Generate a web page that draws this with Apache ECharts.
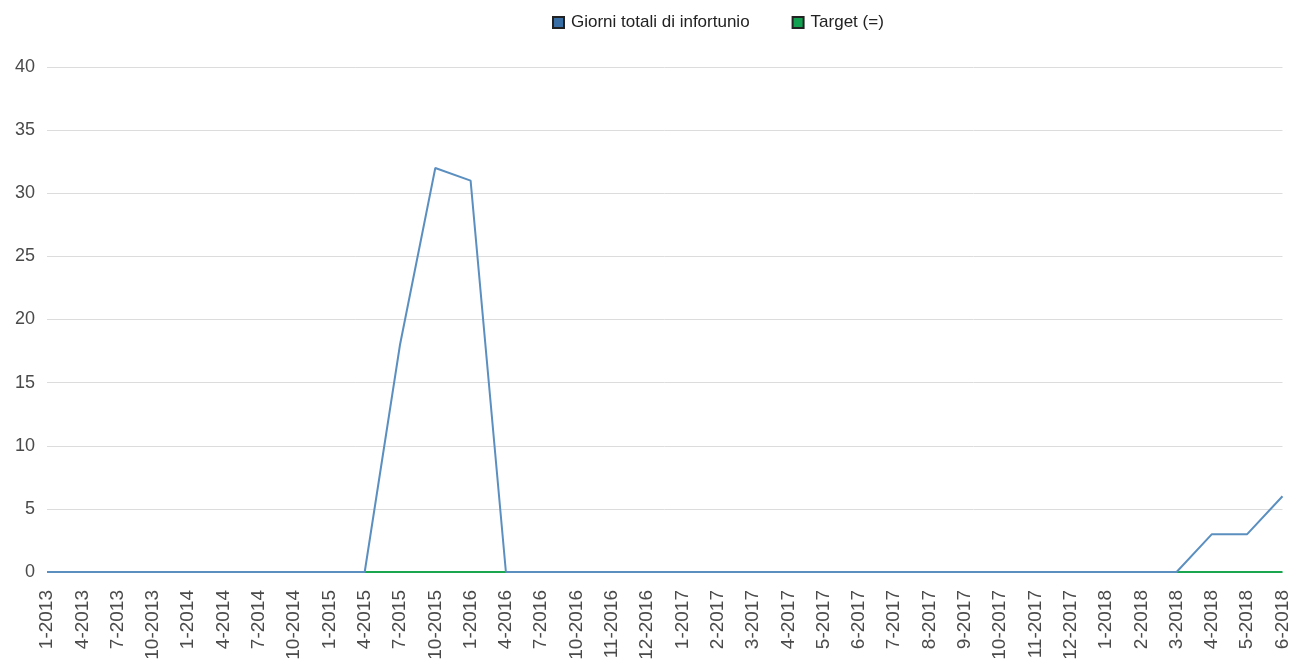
<!DOCTYPE html>
<html><head><meta charset="utf-8">
<script src="https://cdn.jsdelivr.net/npm/echarts@6/dist/echarts.min.js"></script>
<style>html,body{margin:0;padding:0;background:#fff}#c{width:1292px;height:665px}</style>
</head><body><div id="c"></div>
<script>
const categories = ["1-2013","4-2013","7-2013","10-2013","1-2014","4-2014","7-2014","10-2014","1-2015","4-2015","7-2015","10-2015","1-2016","4-2016","7-2016","10-2016","11-2016","12-2016","1-2017","2-2017","3-2017","4-2017","5-2017","6-2017","7-2017","8-2017","9-2017","10-2017","11-2017","12-2017","1-2018","2-2018","3-2018","4-2018","5-2018","6-2018"];
const giorni = [0,0,0,0,0,0,0,0,0,0,18,32,31,0,0,0,0,0,0,0,0,0,0,0,0,0,0,0,0,0,0,0,0,3,3,6];
const target = [0,0,0,0,0,0,0,0,0,0,0,0,0,0,0,0,0,0,0,0,0,0,0,0,0,0,0,0,0,0,0,0,0,0,0,0];
const yTicks = {min:0, max:40, interval:5};

const chart = echarts.init(document.getElementById('c'));
chart.setOption({
  animation:false,
  textStyle:{fontFamily:'Liberation Sans, Arial, sans-serif'},
  legend:{
    top:9, left:547, itemWidth:11, itemHeight:11, itemGap:42, icon:'rect',
    textStyle:{fontSize:17,color:'#222',padding:[0,0,0,2]},
    data:['Giorni totali di infortunio','Target (=)']
  },
  grid:{left:47,right:8,top:67,bottom:93},
  xAxis:{
    type:'category', data:categories, boundaryGap:false,
    axisLine:{show:false}, axisTick:{show:false},
    axisLabel:{rotate:90, fontSize:19, color:'#4a4a4a', margin:18, interval:0}
  },
  yAxis:{
    type:'value', min:yTicks.min, max:yTicks.max, interval:yTicks.interval,
    axisLine:{show:false}, axisTick:{show:false},
    axisLabel:{fontSize:18, color:'#4a4a4a', margin:12},
    splitLine:{lineStyle:{color:'#dcdcdc',width:1}}
  },
  series:[
    {name:'Target (=)', type:'line', data:target, showSymbol:false, z:2,
     itemStyle:{color:'#12a150',borderColor:'#222',borderWidth:1},
     lineStyle:{color:'#1aa64f',width:2}},
    {name:'Giorni totali di infortunio', type:'line', data:giorni, showSymbol:false, z:3,
     itemStyle:{color:'#3a6fa6',borderColor:'#222',borderWidth:1},
     lineStyle:{color:'#5b8fc0',width:2}}
  ]
});
</script></body></html>
